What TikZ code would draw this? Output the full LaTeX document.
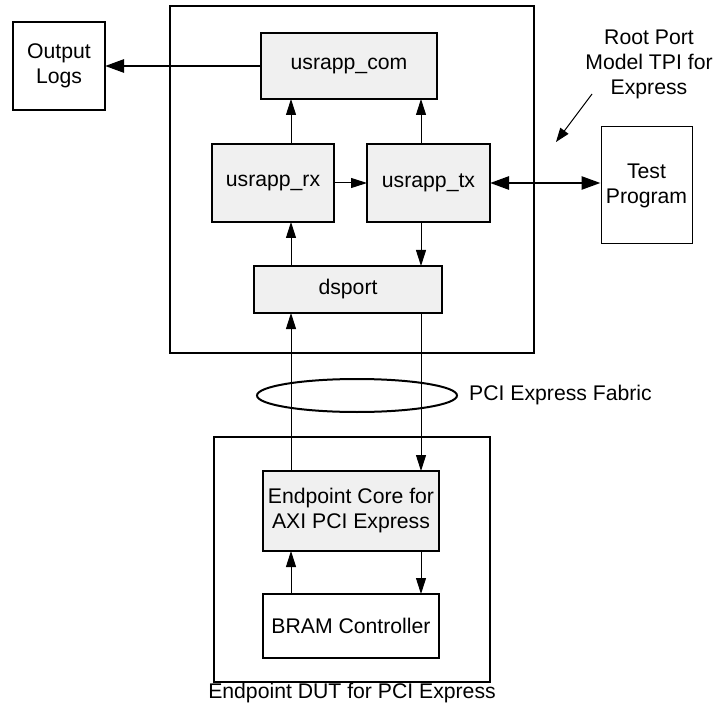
\documentclass[tikz,border=0pt]{standalone}
\usepackage{fontspec}
\setmainfont{Liberation Sans}
\usetikzlibrary{arrows.meta,shapes.geometric}
\definecolor{boxgray}{HTML}{F0F0F0}
\tikzset{
  thickbox/.style={draw, line width=2.8pt, inner sep=0pt, outer sep=0pt, align=center},
  grayblk/.style={thickbox, fill=boxgray},
  thinarr/.style={line width=1pt, -{Triangle[length=16pt,width=10pt]}},
  thickarr/.style={line width=2.6pt, -{Triangle[length=19pt,width=13pt]}},
  lbl/.style={inner sep=0pt, align=center}
}
\begin{document}
\begin{tikzpicture}[x=1pt,y=-1pt,font=\fontsize{21.2}{25}\selectfont]
\useasboundingbox (0,0) rectangle (714,708);
% containers
\node[thickbox, minimum width=364, minimum height=347] (top) at (352,179.5) {};
\node[thickbox, minimum width=276, minimum height=245] (bot) at (352,559.5) {};
% blocks
\node[grayblk, minimum width=176, minimum height=66] (com) at (349,66) {usrapp\_com};
\node[grayblk, minimum width=122, minimum height=78] (rx) at (273,183) {usrapp\_rx};
\node[grayblk, minimum width=123, minimum height=78] (tx) at (428.5,183) {usrapp\_tx};
\node[grayblk, minimum width=188, minimum height=47] (ds) at (348,289.5) {dsport};
\node[thickbox, minimum width=92, minimum height=88] (logs) at (59,66) {Output\\Logs};
\node[draw, line width=1pt, inner sep=0pt, align=center, minimum width=91, minimum height=117] (test) at (646.5,185.5) {Test\\Program};
\node[grayblk, minimum width=176, minimum height=80] (core) at (351,511) {Endpoint Core for\\AXI PCI Express};
\node[thickbox, fill=white, minimum width=176, minimum height=64] (bram) at (351,626) {BRAM Controller};
% fabric
\node[draw, ellipse, line width=2pt, minimum width=200, minimum height=33, inner sep=0pt] (fab) at (357,395.5) {};
\node[lbl, anchor=west] (fabl) at (469,395.5) {PCI Express Fabric};
% labels
\node[lbl] (dut) at (352,693) {Endpoint DUT for PCI Express};
\node[lbl] (rp) at (649,64) {Root Port\\Model TPI for\\Express};
% helper coordinates
\coordinate (L) at (291,0);
\coordinate (R) at (421,0);
\coordinate (d1) at (592,94);
\coordinate (d2) at (556,142);
% connectors
\draw[thickarr] (com.west) -- (logs.east);
\draw[thinarr] (rx.north -| L) -- (com.south -| L);
\draw[thinarr] (tx.north -| R) -- (com.south -| R);
\draw[thinarr] (rx.east) -- (tx.west);
\draw[line width=2.6pt, {Triangle[length=19pt,width=13pt]}-{Triangle[length=19pt,width=13pt]}] (tx.east) -- (tx.east -| test.west);
\draw[thinarr] (tx.south -| R) -- (ds.north -| R);
\draw[thinarr] (ds.north -| L) -- (rx.south -| L);
\draw[thinarr] (core.north -| L) -- (ds.south -| L);
\draw[thinarr] (ds.south -| R) -- (core.north -| R);
\draw[thinarr] (bram.north -| L) -- (core.south -| L);
\draw[thinarr] (core.south -| R) -- (bram.north -| R);
\draw[line width=1pt, -{Triangle[length=14pt,width=10pt]}] (d1) -- (d2);
\end{tikzpicture}
\end{document}
